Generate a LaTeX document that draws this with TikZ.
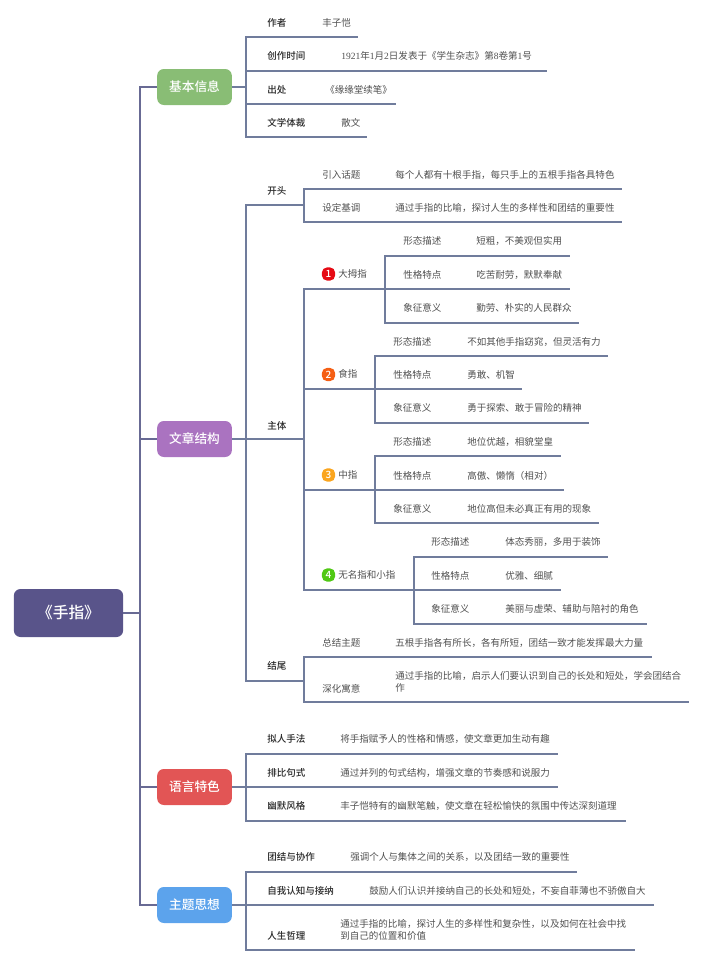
\documentclass[tikz,border=0pt]{standalone}
\usepackage{fontspec}
\setmainfont{Noto Sans CJK SC}
\newfontfamily\midcjk{Noto Sans CJK SC Medium}
\newfontfamily\latinserif{Liberation Serif}
\usepackage{xcolor}
\definecolor{rootviolet}{RGB}{89,84,138}
\definecolor{trunkgray}{RGB}{104,106,148}
\definecolor{twiggray}{RGB}{112,124,156}
\definecolor{inkdark}{RGB}{40,40,40}
\definecolor{inksoft}{RGB}{80,80,80}
\definecolor{topicgreen}{RGB}{137,189,117}
\definecolor{topicpurple}{RGB}{170,115,192}
\definecolor{topicred}{RGB}{226,85,85}
\definecolor{topicblue}{RGB}{92,163,236}
\definecolor{badgered}{RGB}{230,10,20}
\definecolor{badgeorange}{RGB}{245,95,20}
\definecolor{badgeamber}{RGB}{250,165,30}
\definecolor{badgegreen}{RGB}{80,200,20}
\tikzset{
  rootbox/.style={fill=rootviolet,text=white,rounded corners=5pt,minimum width=82pt,minimum height=36pt,font=\fontsize{11.8}{14}\midcjk},
  topicbox/.style={text=white,rounded corners=5pt,minimum width=56pt,minimum height=27pt,font=\fontsize{9.5}{12}\midcjk},
  keylabel/.style={anchor=west,inner sep=0pt,text=inkdark,font=\fontsize{7.15}{9}\midcjk},
  sublabel/.style={anchor=west,inner sep=0pt,text=inksoft,font=\fontsize{7.15}{9}\selectfont},
  infotext/.style={anchor=west,inner sep=0pt,text=inksoft,font=\fontsize{7.15}{9}\selectfont,align=left},
  badge/.style={rounded corners=4pt,inner sep=0pt,minimum size=10pt,text=white,font=\fontsize{7.5}{7.5}\midcjk},
  trunk/.style={draw=trunkgray,line width=0.85pt},
  twig/.style={draw=twiggray,line width=0.85pt}
}
\begin{document}
\begin{tikzpicture}[x=0.75pt,y=-0.75pt]
  \useasboundingbox (0,0) rectangle (703,964);

  % root and main branches
  \node[rootbox] (shouzhi) at (68.5,613) {《手指》};
  \coordinate (spine) at (140,613);
  \node[topicbox,fill=topicgreen] (jiben) at (194.5,87) {基本信息};
  \node[topicbox,fill=topicpurple] (jiegou) at (194.5,439) {文章结构};
  \node[topicbox,fill=topicred] (yuyan) at (194.5,787) {语言特色};
  \node[topicbox,fill=topicblue] (zhuti) at (194.5,905) {主题思想};
  \draw[trunk] (shouzhi) -- (spine);
  \foreach \nm in {jiben,jiegou,yuyan,zhuti}
    \draw[trunk] (spine) |- (\nm);

  % basic info
  \coordinate (jibenhub) at (246,87);
  \draw[twig] (jiben) -- (jibenhub);
  \foreach \nm/\lab/\xi/\txt/\y/\xe in {
      zuozhe/作者/322/丰子恺/22.5/358,
      shijian/创作时间/341/{{\latinserif 1921}年{\latinserif 1}月{\latinserif 2}日发表于《学生杂志》第{\latinserif 8}卷第{\latinserif 1}号}/56/547,
      chuchu/出处/325/《缘缘堂续笔》/89.5/396,
      ticai/文学体裁/341/散文/122.5/367}{
    \node[keylabel] (\nm) at (267,\y) {\lab};
    \node[infotext] (\nm info) at (\xi,\y) {\txt};
    \coordinate (\nm end) at (\xe,{int(\y+15)});
    \draw[twig] (jibenhub) |- (\nm end);
  }

  % article structure
  \coordinate (jiegouhub) at (246,439);
  \draw[twig] (jiegou) -- (jiegouhub);

  \node[keylabel] (kaitou) at (267,190.5) {开头};
  \coordinate (kaitouhub) at (304,205);
  \draw[twig] (jiegouhub) |- (kaitouhub);
  \foreach \nm/\lab/\txt/\y in {
      yinru/引入话题/每个人都有十根手指，每只手上的五根手指各具特色/174.5,
      jidiao/设定基调/通过手指的比喻，探讨人生的多样性和团结的重要性/207.5}{
    \node[sublabel] (\nm) at (322,\y) {\lab};
    \node[infotext] (\nm info) at (395,\y) {\txt};
    \coordinate (\nm end) at (622,{int(\y+15)});
    \draw[twig] (kaitouhub) |- (\nm end);
  }

  \node[keylabel] (zhuti2) at (267,425.5) {主体};
  \coordinate (zhutihub) at (304,439);
  \draw[twig] (jiegouhub) -- (zhutihub);

  % the four fingers
  \foreach \nm/\col/\no/\lab/\y/\xh in {
      damu/badgered/1/大拇指/274/385,
      shi/badgeorange/2/食指/374.5/375,
      zhong/badgeamber/3/中指/475/375,
      wuming/badgegreen/4/无名指和小指/575/414}{
    \node[badge,fill=\col] (\nm badge) at (328.5,\y) {\no};
    \node[sublabel] (\nm) at (338,\y-0.5) {\lab};
    \coordinate (\nm hub) at (\xh,{int(\y+15)});
    \draw[twig] (zhutihub) |- (\nm hub);
  }
  \foreach \f/\nm/\lab/\xl/\xi/\txt/\y/\xe in {
      damu/a/形态描述/403/476/短粗，不美观但实用/241/570,
      damu/b/性格特点/403/476/吃苦耐劳，默默奉献/274.5/570,
      damu/c/象征意义/403/476/勤劳、朴实的人民群众/308/579,
      shi/a/形态描述/393/467/不如其他手指窈窕，但灵活有力/341.5/608,
      shi/b/性格特点/393/467/勇敢、机智/374.5/522,
      shi/c/象征意义/393/467/勇于探索、敢于冒险的精神/408/589,
      zhong/a/形态描述/393/467/地位优越，相貌堂皇/441.5/561,
      zhong/b/性格特点/393/467/高傲、懒惰（相对）/475.5/564,
      zhong/c/象征意义/393/467/地位高但未必真正有用的现象/508.5/599,
      wuming/a/形态描述/431/505/体态秀丽，多用于装饰/542/608,
      wuming/b/性格特点/431/505/优雅、细腻/575.5/561,
      wuming/c/象征意义/431/505/美丽与虚荣、辅助与陪衬的角色/609/647}{
    \node[sublabel] (\f\nm) at (\xl,\y) {\lab};
    \node[infotext] (\f\nm info) at (\xi,\y) {\txt};
    \coordinate (\f\nm end) at (\xe,{int(\y+15)});
    \draw[twig] (\f hub) |- (\f\nm end);
  }

  \node[keylabel] (jiewei) at (267,665.5) {结尾};
  \coordinate (jieweihub) at (304,681);
  \draw[twig] (jiegouhub) |- (jieweihub);
  \node[sublabel] (zongjie) at (322,642.5) {总结主题};
  \node[infotext] (zongjieinfo) at (395,642.5) {五根手指各有所长，各有所短，团结一致才能发挥最大力量};
  \node[sublabel] (shenhua) at (322,688.5) {深化寓意};
  \node[infotext] (shenhuainfo) at (395,682) {通过手指的比喻，启示人们要认识到自己的长处和短处，学会团结合\\作};
  \coordinate (zongjieend) at (652,657);
  \coordinate (shenhuaend) at (689,702);
  \draw[twig] (jieweihub) |- (zongjieend);
  \draw[twig] (jieweihub) |- (shenhuaend);

  % language features
  \coordinate (yuyanhub) at (246,787);
  \draw[twig] (yuyan) -- (yuyanhub);
  \foreach \nm/\lab/\txt/\y/\xe in {
      niren/拟人手法/将手指赋予人的性格和情感，使文章更加生动有趣/739/558,
      paibi/排比句式/通过并列的句式结构，增强文章的节奏感和说服力/772.5/558,
      youmo/幽默风格/丰子恺特有的幽默笔触，使文章在轻松愉快的氛围中传达深刻道理/806/626}{
    \node[keylabel] (\nm) at (267,\y) {\lab};
    \node[infotext] (\nm info) at (340,\y) {\txt};
    \coordinate (\nm end) at (\xe,{int(\y+15)});
    \draw[twig] (yuyanhub) |- (\nm end);
  }

  % main ideas
  \coordinate (zhutihub2) at (246,905);
  \draw[twig] (zhuti) -- (zhutihub2);
  \foreach \nm/\lab/\xi/\txt/\y/\xe in {
      tuanjie/团结与协作/350/强调个人与集体之间的关系，以及团结一致的重要性/857/577,
      ziwo/自我认知与接纳/369/鼓励人们认识并接纳自己的长处和短处，不妄自菲薄也不骄傲自大/890.5/654}{
    \node[keylabel] (\nm) at (267,\y) {\lab};
    \node[infotext] (\nm info) at (\xi,\y) {\txt};
    \coordinate (\nm end) at (\xe,{int(\y+15)});
    \draw[twig] (zhutihub2) |- (\nm end);
  }
  \node[keylabel] (zhexue) at (267,936) {人生哲理};
  \node[infotext] (zhexueinfo) at (340,930) {通过手指的比喻，探讨人生的多样性和复杂性，以及如何在社会中找\\到自己的位置和价值};
  \coordinate (zhexueend) at (635,950);
  \draw[twig] (zhutihub2) |- (zhexueend);
\end{tikzpicture}
\end{document}
